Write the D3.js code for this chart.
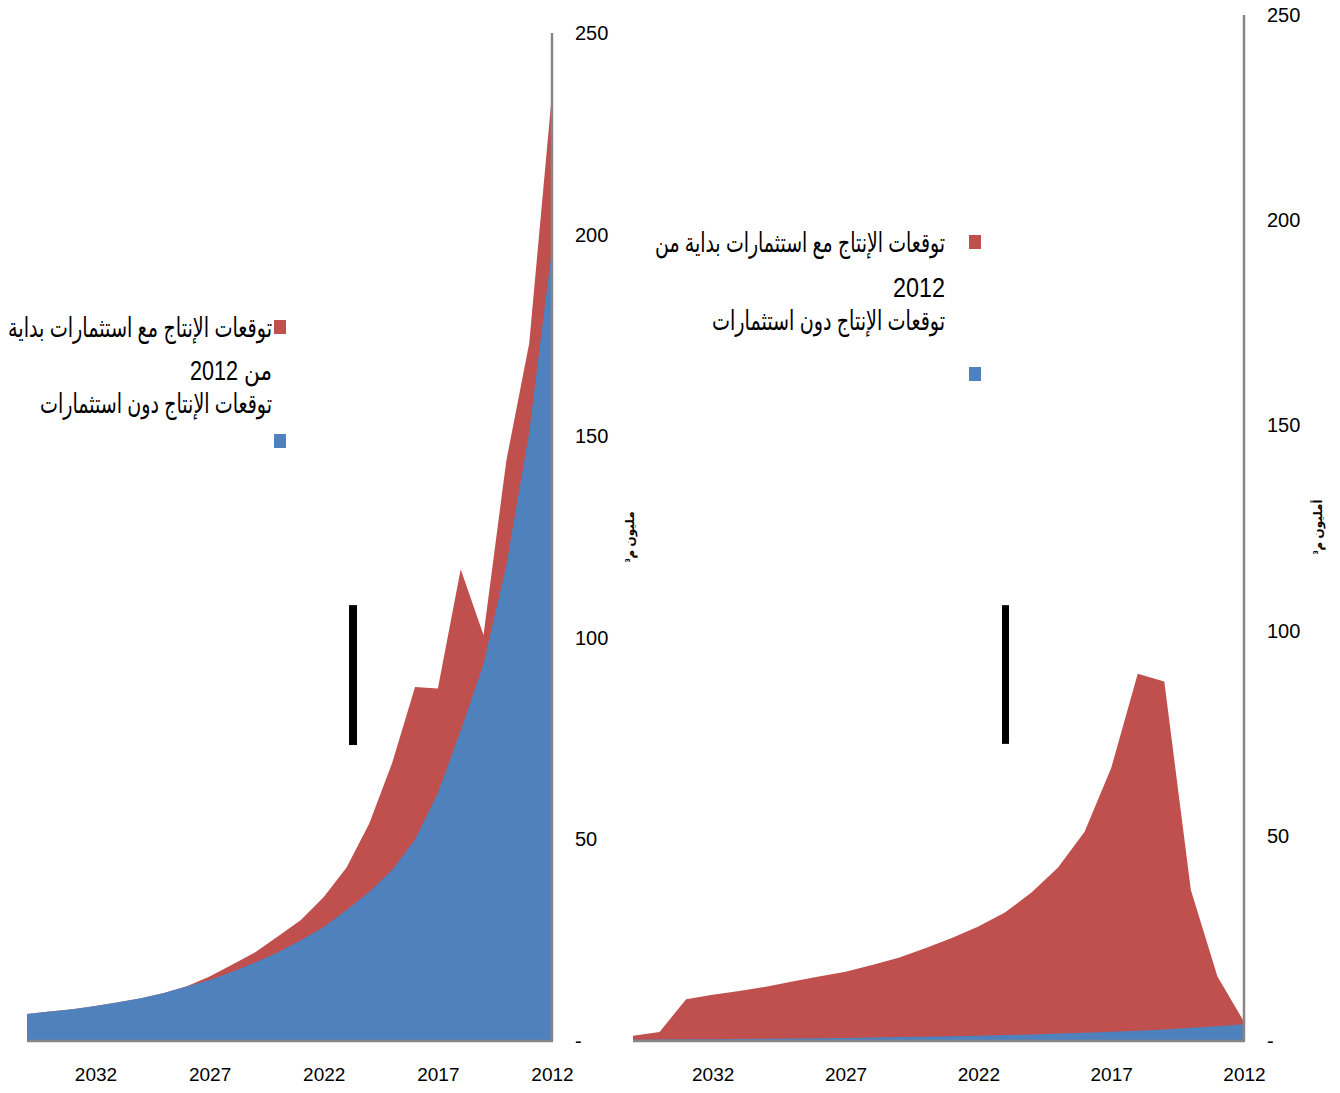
<!DOCTYPE html>
<html>
<head>
<meta charset="utf-8">
<script src="https://cdn.jsdelivr.net/npm/d3@7"></script>
<style>
  html, body { margin: 0; padding: 0; background: #fff; }
  svg { display: block; }
  .num { font-family: "Liberation Sans", Arial, sans-serif; }
  .ar { font-family: "Liberation Sans", "DejaVu Sans", sans-serif; }
</style>
</head>
<body>
<svg id="chart" width="1340" height="1093"></svg>
<script>
// ---------- DATA ----------
const years = [2012, 2013, 2014, 2015, 2016, 2017, 2018, 2019, 2020, 2021, 2022, 2023,
               2024, 2025, 2026, 2027, 2028, 2029, 2030, 2031, 2032, 2033, 2034, 2035];
const xTickYears = [2012, 2017, 2022, 2027, 2032];
const yTicks = [0, 50, 100, 150, 200, 250];
const yTickLabels = ["-", "50", "100", "150", "200", "250"];

const seriesNames = ["توقعات الإنتاج مع استثمارات بداية من 2012", "توقعات الإنتاج دون استثمارات"];

// Left chart
const leftWithInvest = [235, 173, 144, 100.7, 117, 87.4, 87.8, 69, 54, 43, 35.7, 30,
                        26, 22, 19, 16, 13.6, 11.9, 10.6, 9.6, 8.7, 7.9, 7.3, 6.7];
const leftNoInvest   = [196.5, 151, 118, 93.5, 77, 61.5, 50, 42.4, 37, 32.5, 28.3, 25,
                        22, 19.5, 17.2, 15.1, 13.5, 11.9, 10.6, 9.6, 8.7, 7.9, 7.3, 6.7];
// Right chart
const rightWithInvest = [4.7, 15.7, 36.8, 87.6, 89.5, 66.5, 51, 42.3, 36.2, 31.3, 27.9, 25.1,
                         22.6, 20.3, 18.5, 16.9, 15.7, 14.5, 13.2, 12.2, 11.3, 10.2, 2.2, 1.3];
const rightNoInvest   = [4.1, 3.6, 3.2, 2.8, 2.5, 2.25, 2.0, 1.8, 1.6, 1.45, 1.3, 1.15,
                         1.05, 0.95, 0.85, 0.75, 0.7, 0.6, 0.55, 0.5, 0.45, 0.4, 0.35, 0.3];

const colors = { red: "#C0504D", blue: "#4F81BD", axis: "#868686" };

// ---------- DRAW ----------
const svg = d3.select("#chart");

function panel(cfg) {
  const x = d3.scalePoint().domain(years).range([cfg.xRight, cfg.xLeft]);
  const y = d3.scaleLinear().domain([0, 250]).range([cfg.yBottom, cfg.yTop]);
  const g = svg.append("g");

  const area = d3.area()
    .x((d, i) => x(years[i]))
    .y0(y(0))
    .y1(d => y(d));

  g.append("path").datum(cfg.red).attr("d", area).attr("fill", colors.red);
  g.append("path").datum(cfg.blue).attr("d", area).attr("fill", colors.blue);

  // axis lines
  g.append("line")
    .attr("x1", cfg.xRight).attr("x2", cfg.xRight)
    .attr("y1", y(250)).attr("y2", y(0))
    .attr("stroke", colors.axis).attr("stroke-width", 2.5);
  g.append("line")
    .attr("x1", cfg.xLeft).attr("x2", cfg.xRight + 1)
    .attr("y1", y(0)).attr("y2", y(0))
    .attr("stroke", colors.axis).attr("stroke-width", 2.5);

  // y axis
  const ya = g.append("g")
    .attr("transform", `translate(${cfg.xRight},0)`)
    .call(d3.axisRight(y).tickValues(yTicks)
      .tickFormat((d, i) => yTickLabels[i]).tickSize(0).tickPadding(23));
  ya.select(".domain").remove();
  ya.selectAll("text").attr("class", "num").attr("font-family", null)
    .style("font-size", "20px").attr("fill", "#000");

  // x axis
  const xa = g.append("g")
    .attr("transform", `translate(0,${y(0)})`)
    .call(d3.axisBottom(x).tickValues(xTickYears).tickSize(0).tickPadding(27));
  xa.select(".domain").remove();
  xa.selectAll("text").attr("class", "num").attr("font-family", null)
    .style("font-size", "19px").attr("fill", "#000");

  // y title
  svg.append("text")
    .attr("class", "ar")
    .attr("transform", `translate(${cfg.titleX},${cfg.titleY}) rotate(-90)`)
    .attr("text-anchor", "middle")
    .style("font-size", "12px").style("font-weight", "bold")
    .style("letter-spacing", "5px")
    .text(cfg.title);

  // black marker bar
  svg.append("rect")
    .attr("x", cfg.barX).attr("y", y(cfg.barRange[1])).attr("width", cfg.barW)
    .attr("height", y(cfg.barRange[0]) - y(cfg.barRange[1])).attr("fill", "#000");

  // legend
  const L = svg.append("g").attr("class", "ar");
  L.append("rect").attr("x", cfg.legX).attr("y", cfg.leg1Y).attr("width", 12).attr("height", 14)
    .attr("fill", colors.red);
  L.append("rect").attr("x", cfg.legX).attr("y", cfg.leg2Y).attr("width", 12).attr("height", 14)
    .attr("fill", colors.blue);
  cfg.legLines.forEach(l => {
    const t = L.append("text")
      .attr("x", cfg.legTextX).attr("y", l.y)
      .attr("text-anchor", "end")
      .style("font-size", (l.fs || 27) + "px")
      .attr("fill", "#000")
      .text(l.text);
    if (l.w) t.attr("textLength", l.w).attr("lengthAdjust", "spacingAndGlyphs");
  });
}

panel({
  xLeft: 27, xRight: 552, yTop: 33, yBottom: 1041,
  red: leftWithInvest, blue: leftNoInvest,
  title: "مليون م³", titleX: 634, titleY: 537,
  barX: 349, barW: 8, barRange: [73.4, 108.1],
  legX: 274, leg1Y: 320, leg2Y: 434, legTextX: 272,
  legLines: [
    { text: "توقعات الإنتاج مع استثمارات بداية", y: 337, w: 264 },
    { text: "من 2012", y: 380, w: 82 },
    { text: "توقعات الإنتاج دون استثمارات", y: 413, w: 232 }
  ]
});

panel({
  xLeft: 633, xRight: 1244, yTop: 15, yBottom: 1041,
  red: rightWithInvest, blue: rightNoInvest,
  title: "أمليون م³", titleX: 1322, titleY: 527,
  barX: 1002, barW: 7, barRange: [72.4, 106.2],
  legX: 969, leg1Y: 235, leg2Y: 367, legTextX: 945,
  legLines: [
    { text: "توقعات الإنتاج مع استثمارات بداية من", y: 252, w: 290 },
    { text: "2012", y: 297, w: 52 },
    { text: "توقعات الإنتاج دون استثمارات", y: 330, w: 233 }
  ]
});
</script>
</body>
</html>
